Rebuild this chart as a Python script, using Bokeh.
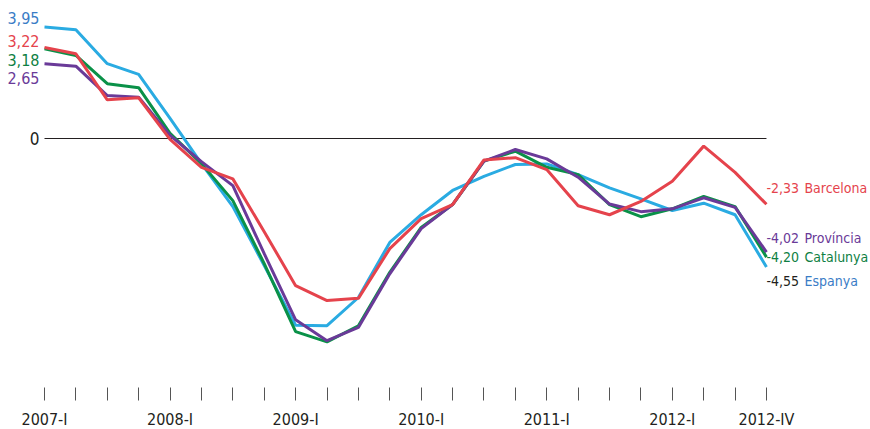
from bokeh.plotting import figure
from bokeh.models import Range1d, FixedTicker
from bokeh.core.properties import value
from bokeh.embed import file_html
from bokeh.resources import INLINE

# ---- data ----
quarters = [f"{y}-{q}" for y in range(2007, 2013) for q in ["I", "II", "III", "IV"]]
shown_ticks = ["2007-I", "2008-I", "2009-I", "2010-I", "2011-I", "2012-I", "2012-IV"]

espanya = [3.95, 3.85, 2.65, 2.27, 0.71, -0.89, -2.41, -4.50, -6.61, -6.63, -5.63, -3.68,
           -2.70, -1.84, -1.34, -0.92, -0.90, -1.28, -1.75, -2.14, -2.55, -2.29, -2.70, -4.55]
barcelona = [3.22, 3.00, 1.37, 1.44, -0.03, -1.02, -1.43, -3.30, -5.21, -5.74, -5.66, -3.90,
             -2.84, -2.34, -0.76, -0.68, -1.10, -2.38, -2.70, -2.23, -1.51, -0.27, -1.20, -2.33]
catalunya = [3.18, 2.94, 1.94, 1.80, 0.18, -0.89, -2.20, -4.43, -6.84, -7.20, -6.63, -4.74,
             -3.15, -2.34, -0.80, -0.45, -1.02, -1.28, -2.34, -2.77, -2.49, -2.05, -2.41, -4.20]
provincia = [2.65, 2.56, 1.52, 1.46, 0.11, -0.82, -1.67, -4.08, -6.42, -7.16, -6.69, -4.79,
             -3.19, -2.34, -0.80, -0.39, -0.72, -1.37, -2.32, -2.59, -2.49, -2.10, -2.44, -4.02]

series_names = ["Espanya", "Catalunya", "Província", "Barcelona"]
series_values = [espanya, catalunya, provincia, barcelona]

# ---- styles ----
FONT = "DejaVu Sans Condensed, sans-serif"
line_colors = {"Espanya": "#2AABE2", "Catalunya": "#0A9148", "Província": "#6A3A98", "Barcelona": "#E5434C"}
text_colors = {"Espanya": "#3A7CC6", "Catalunya": "#0E7F43", "Província": "#6A3A98", "Barcelona": "#E5434C"}
end_num_colors = {"Espanya": "#231F20", "Catalunya": "#0E7F43", "Província": "#6A3A98", "Barcelona": "#E5434C"}
start_dy = {"Espanya": -9, "Barcelona": -7, "Catalunya": 11, "Província": 14}
end_dy = {"Espanya": 14, "Barcelona": -16, "Catalunya": 0, "Província": -14}

n = len(quarters)
xs = list(range(n))

# pixel mapping
px_per_x = 31.39
x0_px = 44.0
frame_w = 870
frame_h = 387
px_per_y = 28.24
zero_px = 138.0

x_start = -x0_px / px_per_x
x_end = x_start + frame_w / px_per_x
y_end = zero_px / px_per_y
y_start = y_end - frame_h / px_per_y

p = figure(frame_width=frame_w, frame_height=frame_h, output_backend="svg", toolbar_location=None,
           x_range=Range1d(x_start, x_end), y_range=Range1d(y_start, y_end),
           y_axis_location=None, x_axis_location="below",
           min_border_left=0, min_border_right=0, min_border_top=0, min_border_bottom=0)
p.outline_line_color = None
p.xgrid.visible = False
p.ygrid.visible = False
p.background_fill_color = "white"
p.border_fill_color = "white"

ax = p.xaxis[0]
ax.ticker = FixedTicker(ticks=xs)
ax.major_label_overrides = {i: (q if q in shown_ticks else "") for i, q in enumerate(quarters)}
ax.axis_line_color = None
ax.major_tick_in = 0
ax.major_tick_out = 13
ax.major_tick_line_color = "#555555"
ax.major_tick_line_width = 1
ax.minor_tick_line_color = None
ax.major_label_standoff = 9
ax.major_label_text_font = FONT
ax.major_label_text_font_size = "16px"
ax.major_label_text_color = "#231F20"

# zero line
p.segment(x0=[xs[0]], x1=[xs[-1]], y0=[0], y1=[0], line_color="#231F20", line_width=1)
p.text(x=[xs[0]], y=[0], text=["0"], text_font=value(FONT), text_font_size="17px",
       text_color="#231F20", text_align="right", text_baseline="middle", x_offset=-5)

def fmt(v):
    return f"{v:.2f}".replace(".", ",")

for name, vals in zip(series_names, series_values):
    p.line(xs, vals, line_color=line_colors[name], line_width=3)

for name, vals in zip(series_names, series_values):
    # start label
    p.text(x=[xs[0]], y=[vals[0]], text=[fmt(vals[0])], text_font=value(FONT),
           text_font_size="16px", text_color=text_colors[name], text_align="right",
           text_baseline="middle", x_offset=-5, y_offset=start_dy[name])
    # end labels
    p.text(x=[xs[-1]], y=[vals[-1]], text=[fmt(vals[-1])], text_font=value(FONT),
           text_font_size="14px", text_color=end_num_colors[name], text_align="left",
           text_baseline="middle", x_offset=0, y_offset=end_dy[name])
    p.text(x=[xs[-1]], y=[vals[-1]], text=[name], text_font=value(FONT),
           text_font_size="14px", text_color=text_colors[name], text_align="left",
           text_baseline="middle", x_offset=38, y_offset=end_dy[name])

open("out.html", "w").write(file_html(p, INLINE))
